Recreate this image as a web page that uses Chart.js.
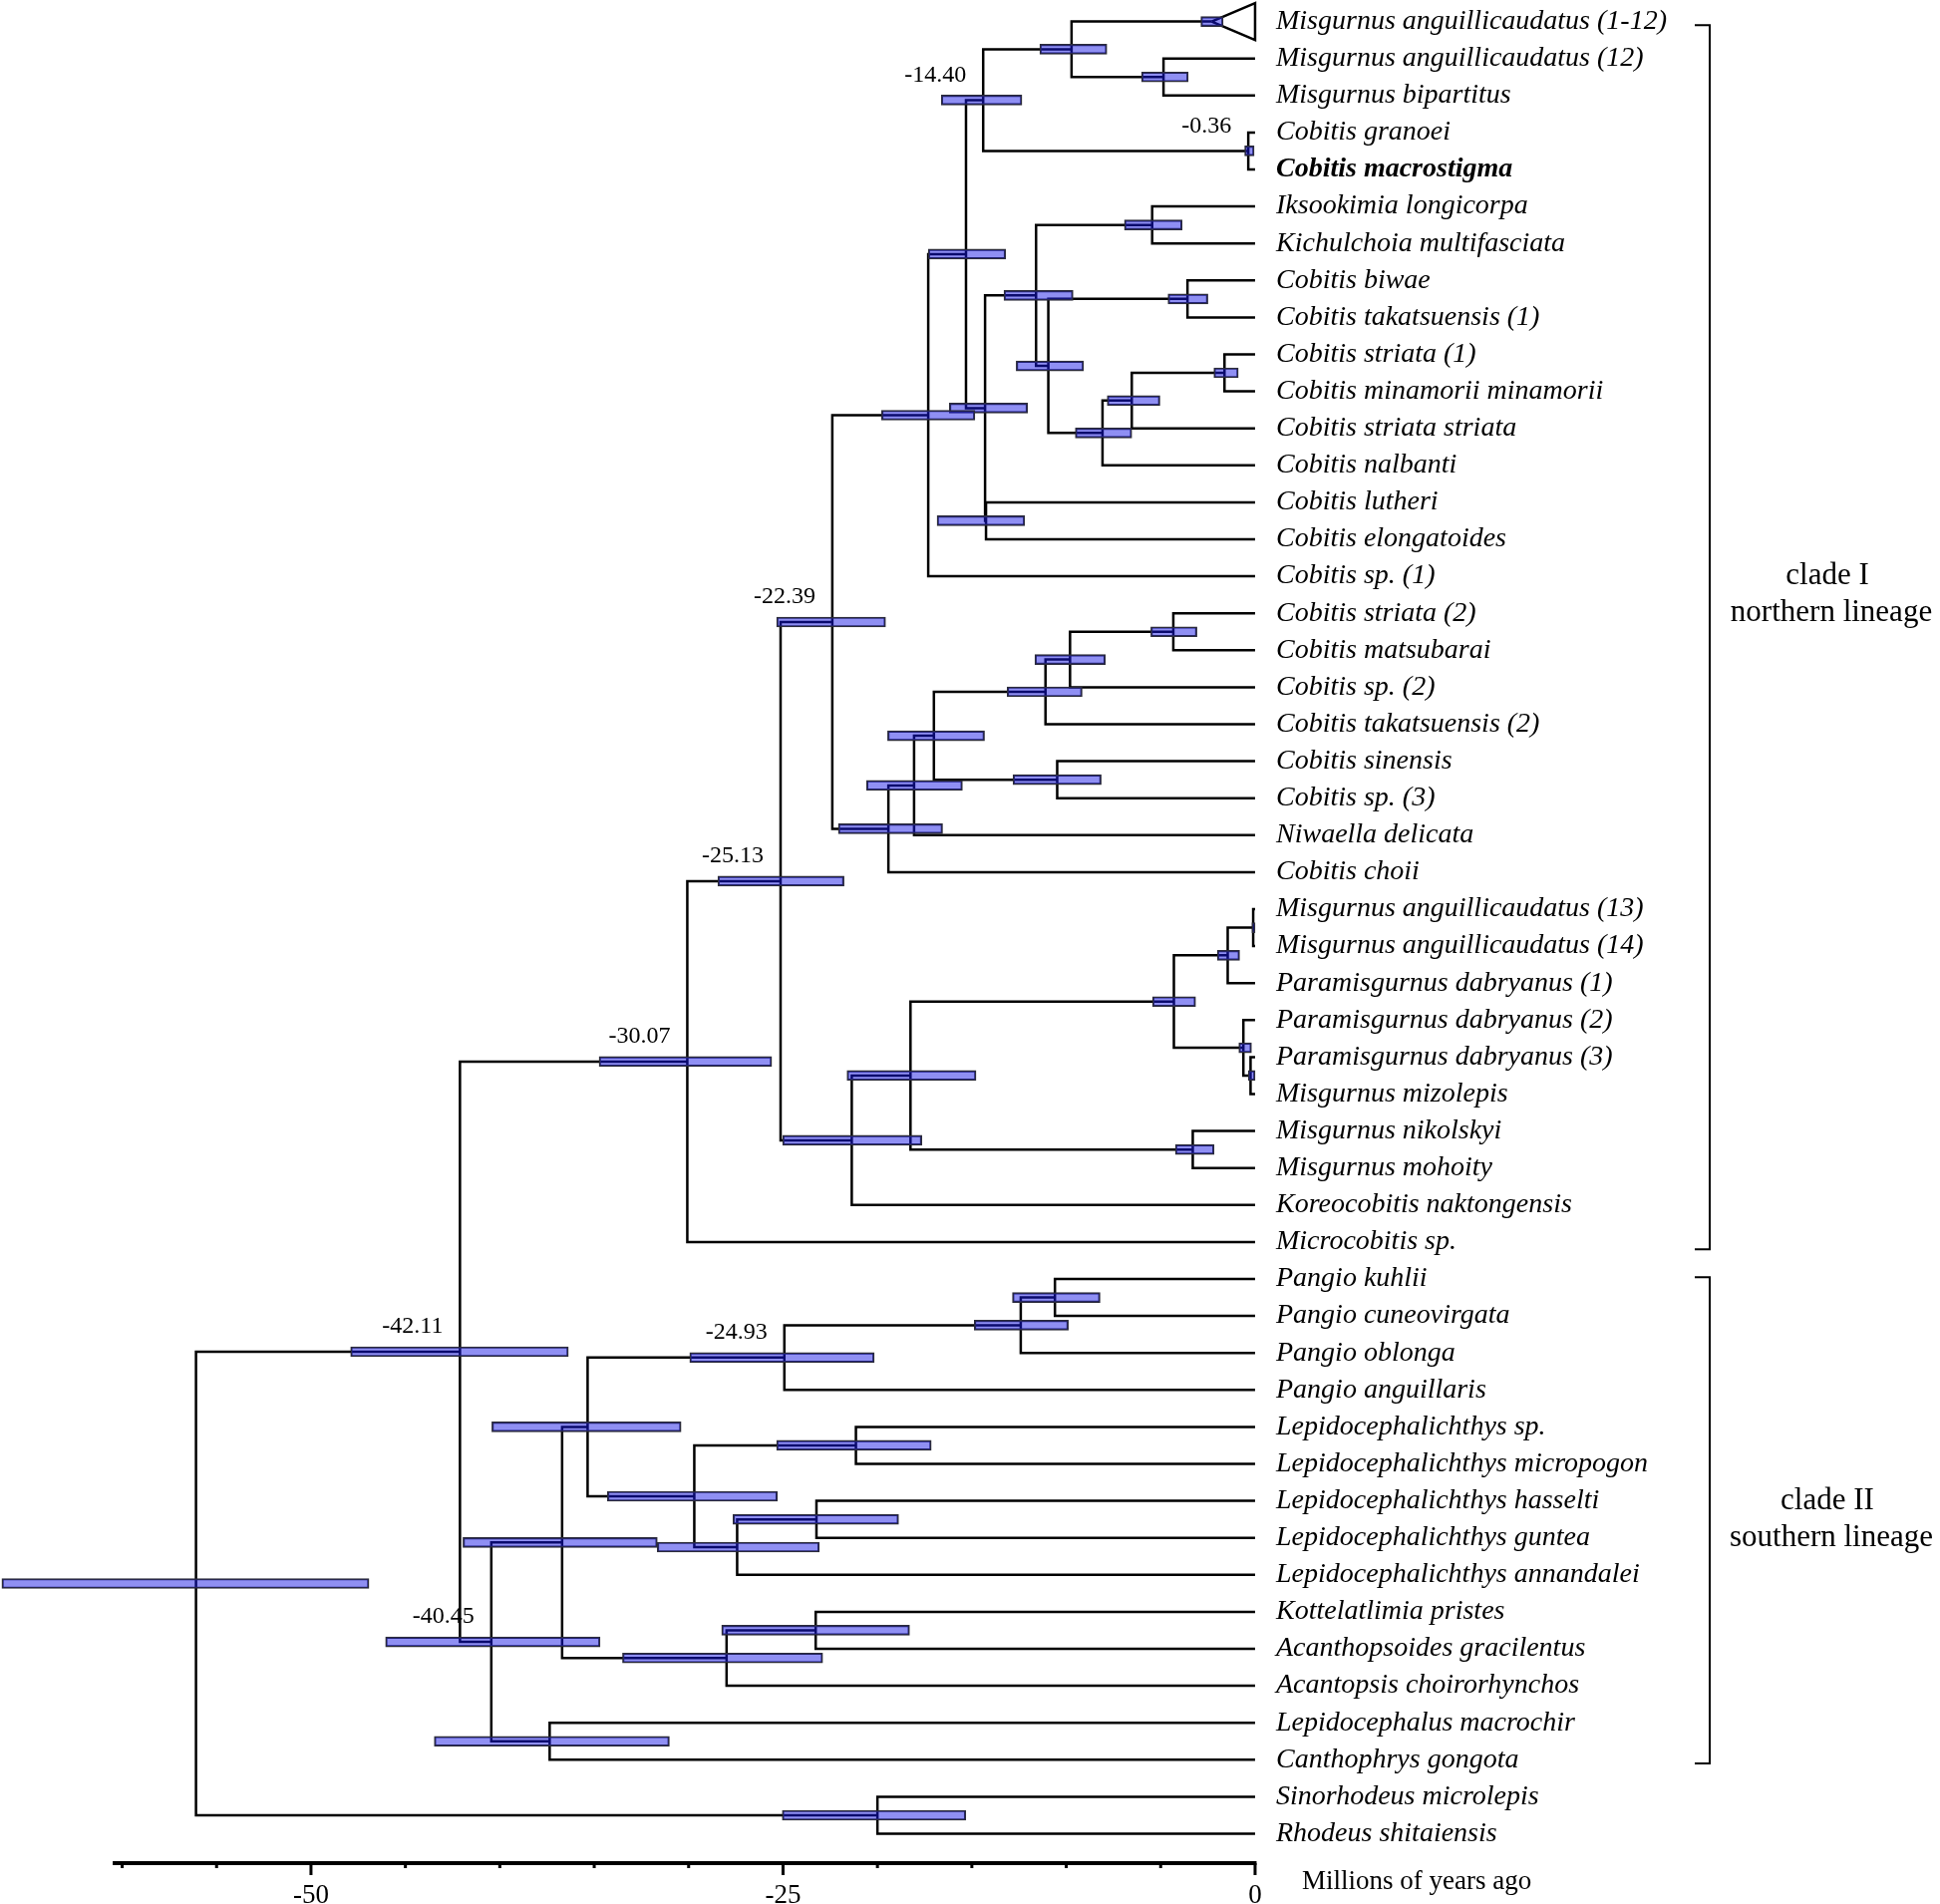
<!DOCTYPE html>
<html>
<head>
<meta charset="utf-8">
<title>Cobitidae time tree</title>
<script src="https://cdn.jsdelivr.net/npm/chart.js@4.4.1/dist/chart.umd.min.js"></script>
<style>
  html, body { margin: 0; padding: 0; background: #fff; }
</style>
</head>
<body>
<canvas id="treeChart" width="1946" height="1910"></canvas>
<script>
// --- DATA ---
const tipNames = [
  'Misgurnus anguillicaudatus (1-12)', 'Misgurnus anguillicaudatus (12)', 'Misgurnus bipartitus',
  'Cobitis granoei', 'Cobitis macrostigma', 'Iksookimia longicorpa', 'Kichulchoia multifasciata',
  'Cobitis biwae', 'Cobitis takatsuensis (1)', 'Cobitis striata (1)', 'Cobitis minamorii minamorii',
  'Cobitis striata striata', 'Cobitis nalbanti', 'Cobitis lutheri', 'Cobitis elongatoides',
  'Cobitis sp. (1)', 'Cobitis striata (2)', 'Cobitis matsubarai', 'Cobitis sp. (2)',
  'Cobitis takatsuensis (2)', 'Cobitis sinensis', 'Cobitis sp. (3)', 'Niwaella delicata',
  'Cobitis choii', 'Misgurnus anguillicaudatus (13)', 'Misgurnus anguillicaudatus (14)',
  'Paramisgurnus dabryanus (1)', 'Paramisgurnus dabryanus (2)', 'Paramisgurnus dabryanus (3)',
  'Misgurnus mizolepis', 'Misgurnus nikolskyi', 'Misgurnus mohoity', 'Koreocobitis naktongensis',
  'Microcobitis sp.', 'Pangio kuhlii', 'Pangio cuneovirgata', 'Pangio oblonga', 'Pangio anguillaris',
  'Lepidocephalichthys sp.', 'Lepidocephalichthys micropogon', 'Lepidocephalichthys hasselti',
  'Lepidocephalichthys guntea', 'Lepidocephalichthys annandalei', 'Kottelatlimia pristes',
  'Acanthopsoides gracilentus', 'Acantopsis choirorhynchos', 'Lepidocephalus macrochir',
  'Canthophrys gongota', 'Sinorhodeus microlepis', 'Rhodeus shitaiensis'
];
const boldTip = 'Cobitis macrostigma';

// tip 0 is a collapsed clade (triangle)
const collapsedAge = -2.3;
const collapsedHpd = [-2.87, -1.69];

// internal nodes get ids 50, 51, ... in this order; kids are tip rows (<50) or node ids
const nodeKids = [
  [1, 2], [0, 50], [3, 4], [51, 52], [5, 6], [7, 8], [9, 10], [56, 11], [57, 12], [55, 58],
  [54, 59], [13, 14], [60, 61], [53, 62], [63, 15], [16, 17], [65, 18], [66, 19], [20, 21], [67, 68],
  [69, 22], [70, 23], [64, 71], [24, 25], [73, 26], [28, 29], [27, 75], [74, 76], [30, 31], [77, 78],
  [79, 32], [72, 80], [81, 33], [34, 35], [83, 36], [84, 37], [38, 39], [40, 41], [87, 42], [86, 88],
  [85, 89], [43, 44], [91, 45], [90, 92], [46, 47], [93, 94], [82, 95], [48, 49], [96, 97]
];
const nodeAge = [
  -4.85, -9.72, -0.36, -14.40, -5.45, -3.58, -1.62, -6.53, -8.08, -10.95,
  -11.60, -14.25, -14.30, -15.31, -17.31, -4.33, -9.80, -11.10, -10.48, -17.01,
  -18.06, -19.42, -22.39, -0.10, -1.45, -0.24, -0.62, -4.30, -3.30, -18.25,
  -21.36, -25.13, -30.07, -10.60, -12.41, -24.93, -21.14, -23.23, -27.43, -29.70,
  -35.35, -23.27, -27.99, -36.70, -37.36, -40.45, -42.11, -20.00, -56.09
];
const hpdLow = [
  -6.01, -11.40, -0.55, -16.62, -6.92, -4.61, -2.18, -7.83, -9.52, -12.65,
  -13.30, -16.84, -16.19, -17.31, -19.78, -5.52, -11.66, -13.13, -12.82, -19.46,
  -20.58, -22.07, -25.34, -0.17, -2.00, -0.36, -0.86, -5.43, -4.22, -21.61,
  -25.02, -28.45, -34.74, -12.85, -14.87, -29.94, -25.34, -27.65, -31.66, -34.30,
  -40.42, -28.25, -33.50, -41.95, -43.47, -46.05, -47.90, -25.04, -66.37
];
const hpdHigh = [
  -3.54, -7.85, -0.05, -12.35, -3.86, -2.50, -0.89, -5.04, -6.53, -9.08,
  -9.64, -12.20, -12.05, -13.21, -14.84, -3.08, -7.93, -9.16, -8.15, -14.33,
  -15.50, -16.55, -19.57, 0, -0.82, 0, -0.19, -3.15, -2.17, -14.78,
  -17.65, -21.77, -25.60, -8.21, -9.89, -20.17, -17.15, -18.88, -23.08, -25.30,
  -30.40, -18.30, -22.90, -31.66, -31.02, -34.69, -36.37, -15.32, -46.93
];
const labelledNodes = [52, 53, 72, 81, 82, 85, 95, 96];

const axisTicks = [-60, -55, -50, -45, -40, -35, -30, -25, -20, -15, -10, -5, 0];
const axisLabels = [-50, -25, 0];
const axisTitle = 'Millions of years ago';

const cladeNames = ['clade I', 'clade II'];
const cladeLineage = ['northern lineage', 'southern lineage'];
const cladeTop = [0.1, 33.95];
const cladeBottom = [33.2, 47.1];
const cladeTextRow = [15, 40];

// --- TREE GEOMETRY ---
const FONT = "'Liberation Serif', 'Times New Roman', serif";
Chart.defaults.font.family = FONT;
Chart.defaults.color = '#000';

function xOf(id) {
  if (id < 50) return id === 0 ? collapsedAge : 0;
  return nodeAge[id - 50];
}
function yOf(id) {
  if (id < 50) return id;
  const k = nodeKids[id - 50];
  return (yOf(k[0]) + yOf(k[1])) / 2;
}

const branchSets = nodeKids.map((k, i) => ({
  type: 'line',
  data: [
    {x: xOf(k[0]), y: yOf(k[0])}, {x: nodeAge[i], y: yOf(k[0])},
    {x: nodeAge[i], y: yOf(k[1])}, {x: xOf(k[1]), y: yOf(k[1])}
  ],
  borderColor: '#000',
  borderWidth: 2.5,
  borderJoinStyle: 'miter',
  pointRadius: 0,
  fill: false,
  tension: 0,
  order: 2
}));

const triangleSet = {
  type: 'line',
  data: [{x: collapsedAge, y: 0}, {x: 0, y: -0.5}, {x: 0, y: 0.5}, {x: collapsedAge, y: 0}],
  borderColor: '#000',
  borderWidth: 2.5,
  borderJoinStyle: 'miter',
  pointRadius: 0,
  fill: false,
  tension: 0,
  order: 2
};

const hpdSet = {
  type: 'bar',
  indexAxis: 'y',
  data: nodeAge.map((a, i) => ({x: [hpdLow[i], hpdHigh[i]], y: yOf(50 + i)}))
    .concat([{x: collapsedHpd, y: 0}]),
  backgroundColor: 'rgba(20, 20, 230, 0.48)',
  borderColor: '#2b2b3a',
  borderWidth: 1.5,
  borderSkipped: false,
  barThickness: 10,
  order: 0
};

// --- EXTRA DRAWING: age labels, time axis, clade brackets ---
const decorations = {
  id: 'decorations',
  afterDatasetsDraw(chart) {
    const {ctx, chartArea, scales: {x, y}} = chart;
    ctx.save();
    ctx.fillStyle = '#000';
    ctx.strokeStyle = '#000';

    ctx.font = '24px ' + FONT;
    ctx.textAlign = 'right';
    ctx.textBaseline = 'middle';
    labelledNodes.forEach(id => {
      const px = x.getPixelForValue(nodeAge[id - 50]);
      const py = y.getPixelForValue(yOf(id));
      ctx.fillText(nodeAge[id - 50].toFixed(2), px - 17, py - 25);
    });

    const axY = chartArea.bottom;
    ctx.lineWidth = 4;
    ctx.beginPath();
    ctx.moveTo(x.getPixelForValue(-60.5), axY);
    ctx.lineTo(x.getPixelForValue(0) + 1.5, axY);
    ctx.stroke();
    ctx.lineWidth = 3;
    axisTicks.forEach(t => {
      const px = x.getPixelForValue(t);
      const len = axisLabels.includes(t) ? 12 : 5;
      ctx.beginPath();
      ctx.moveTo(px, axY);
      ctx.lineTo(px, axY + len);
      ctx.stroke();
    });
    ctx.font = '27px ' + FONT;
    ctx.textAlign = 'left';
    ctx.fillText(axisTitle, x.getPixelForValue(0) + 47, axY + 19);

    const bx = y.left + 446;
    ctx.lineWidth = 2;
    cladeNames.forEach((name, i) => {
      const top = y.getPixelForValue(cladeTop[i]);
      const bot = y.getPixelForValue(cladeBottom[i]);
      ctx.beginPath();
      ctx.moveTo(bx - 15, top);
      ctx.lineTo(bx, top);
      ctx.lineTo(bx, bot);
      ctx.lineTo(bx - 15, bot);
      ctx.stroke();
      ctx.font = '31px ' + FONT;
      ctx.textAlign = 'center';
      ctx.fillText(name, y.left + 564, y.getPixelForValue(cladeTextRow[i]));
      ctx.fillText(cladeLineage[i], y.left + 568, y.getPixelForValue(cladeTextRow[i] + 1));
    });
    ctx.restore();
  }
};

new Chart(document.getElementById('treeChart'), {
  type: 'line',
  data: { datasets: [hpdSet, triangleSet].concat(branchSets) },
  options: {
    responsive: false,
    animation: false,
    layout: { padding: 0 },
    plugins: { legend: { display: false }, tooltip: { enabled: false } },
    scales: {
      x: {
        type: 'linear', min: -66.47, max: 0.53, offset: false,
        grid: { display: false }, border: { display: false },
        afterBuildTicks: s => { s.ticks = axisLabels.map(v => ({value: v})); },
        afterFit: s => { s.height = 41; s.paddingLeft = 0; s.paddingRight = 0; },
        ticks: { padding: 9, maxRotation: 0, autoSkip: false, font: { size: 27 }, callback: v => String(v) }
      },
      y: {
        type: 'linear', position: 'right', reverse: true, min: -0.582, max: 49.795, offset: false,
        grid: { display: false }, border: { display: false },
        afterBuildTicks: s => { s.ticks = tipNames.map((n, i) => ({value: i})); },
        afterFit: s => { s.width = 677; s.paddingTop = 0; s.paddingBottom = 0; },
        ticks: {
          autoSkip: false, padding: 3,
          font: ctx => ({
            size: 28, style: 'italic',
            weight: ctx.tick && tipNames[ctx.tick.value] === boldTip ? 'bold' : 'normal'
          }),
          callback: v => tipNames[v]
        }
      }
    }
  },
  plugins: [decorations]
});
</script>
</body>
</html>
